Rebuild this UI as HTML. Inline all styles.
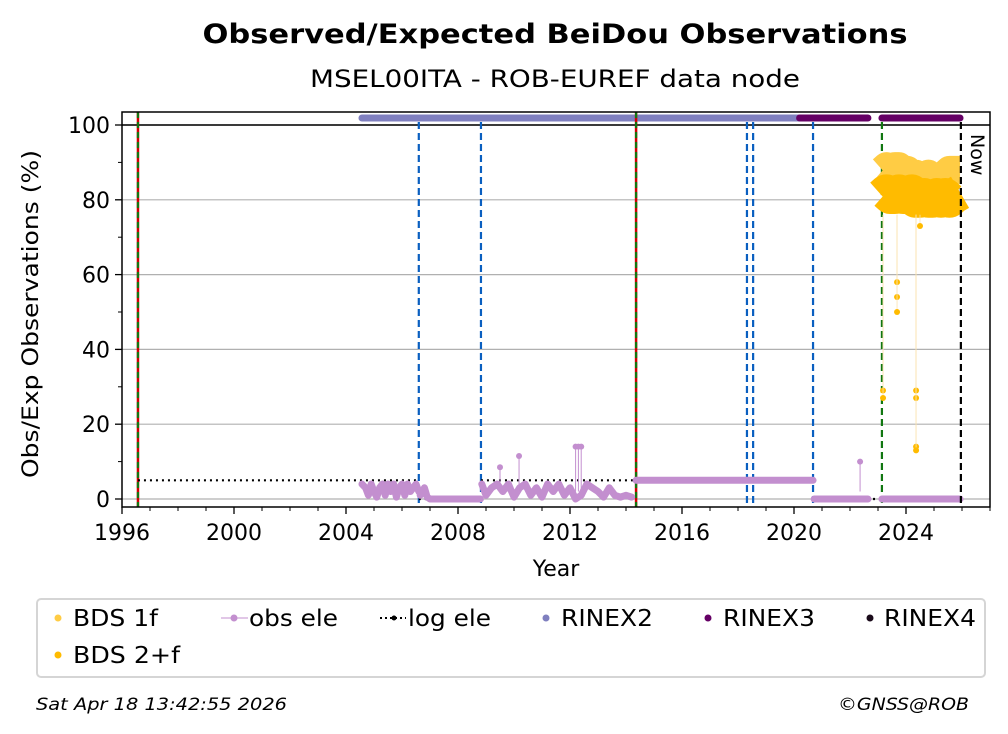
<!DOCTYPE html>
<html><head><meta charset="utf-8"><style>
body{margin:0;background:#fff;}
svg{display:block;font-family:"DejaVu Sans","Liberation Sans",sans-serif;}
</style></head><body>
<svg id="chart" width="1008" height="734" viewBox="0 0 1008 734" xmlns="http://www.w3.org/2000/svg">
<text x="555" y="43" text-anchor="middle" font-size="27" font-weight="bold" textLength="705" lengthAdjust="spacingAndGlyphs">Observed/Expected BeiDou Observations</text>
<text x="555" y="87" text-anchor="middle" font-size="24" textLength="490" lengthAdjust="spacingAndGlyphs">MSEL00ITA - ROB-EUREF data node</text>
<g id="grid"></g><g id="marks"></g><g id="axes"></g>
<text x="556" y="576" text-anchor="middle" font-size="22">Year</text>
<text transform="translate(38,314) rotate(-90)" text-anchor="middle" font-size="22" textLength="328" lengthAdjust="spacingAndGlyphs">Obs/Exp Observations (%)</text>
<g>
<rect x="37" y="599" width="948" height="78" rx="4" fill="#fff" stroke="#d5d5d5" stroke-width="2"/>
<g><circle cx="58" cy="618" r="3.5" fill="#ffcc44"/><text x="73" y="626" font-size="23" textLength="85" lengthAdjust="spacingAndGlyphs">BDS 1f</text></g>
<g><circle cx="58" cy="655" r="3.5" fill="#ffbb00"/><text x="73" y="663" font-size="23" textLength="107" lengthAdjust="spacingAndGlyphs">BDS 2+f</text></g>
<g><line x1="221" y1="618" x2="248" y2="618" stroke="#c38fcf"/><circle cx="234" cy="618" r="3.5" fill="#c38fcf"/><text x="249" y="626" font-size="23" textLength="89" lengthAdjust="spacingAndGlyphs">obs ele</text></g>
<g><line x1="380" y1="618" x2="406" y2="618" stroke="#000" stroke-dasharray="2,3" stroke-width="2"/><circle cx="394" cy="618" r="2.5" fill="#000"/><text x="408" y="626" font-size="23" textLength="83" lengthAdjust="spacingAndGlyphs">log ele</text></g>
<g><circle cx="546" cy="618" r="3.5" fill="#7f7fbf"/><text x="561" y="626" font-size="23" textLength="92" lengthAdjust="spacingAndGlyphs">RINEX2</text></g>
<g><circle cx="708" cy="618" r="3.5" fill="#650065"/><text x="723" y="626" font-size="23" textLength="92" lengthAdjust="spacingAndGlyphs">RINEX3</text></g>
<g><circle cx="870" cy="618" r="3.5" fill="#1a0a1a"/><text x="884" y="626" font-size="23" textLength="92" lengthAdjust="spacingAndGlyphs">RINEX4</text></g>
</g>
<text x="36" y="710" font-size="17" font-style="italic" textLength="251" lengthAdjust="spacingAndGlyphs">Sat Apr 18 13:42:55 2026</text>
<text x="969" y="710" font-size="17" font-style="italic" text-anchor="end" textLength="131" lengthAdjust="spacingAndGlyphs">©GNSS@ROB</text>
</svg>
<script>
const xTicks=[1996,2000,2004,2008,2012,2016,2020,2024];
const yTicks=[0,20,40,60,80,100];
// obs ele segments
const obsYears1=[2004.57,2004.7,2004.8,2004.9,2005.0,2005.1,2005.2,2005.3,2005.4,2005.5,2005.6,2005.7,2005.8,2005.9,2006.0,2006.1,2006.2,2006.3,2006.4,2006.5,2006.6];
const obsVals1=[4,3,1,4,2,0.5,3,4,1,4,2,4,0.5,3,4,1,4,2,3,4,2];
const obsYears2=[2006.65,2006.8,2006.9,2007.0,2007.3,2007.6,2008.0,2008.4,2008.8];
const obsVals2=[1,3,0.5,0,0,0,0,0,0];
const obsYears3=[2008.85,2009.0,2009.2,2009.4,2009.6,2009.8,2010.0,2010.2,2010.4,2010.6,2010.8,2011.0,2011.2,2011.4,2011.6,2011.8,2012.0,2012.2,2012.4,2012.6,2012.8,2013.0,2013.2,2013.4,2013.6,2013.8,2014.0,2014.2];
const obsVals3=[4,1,3,4,2,4,0.5,3,4,1,3,0.5,4,2,4,1,3,0,1,4,3,2,0.5,3,1,0.5,1,0.5];
const spikeYears=[2009.5,2010.18,2012.2,2012.3,2012.4];
const spikeVals=[8.5,11.5,14,14,14];
const obsYears4=[2014.36,2016.0,2018.0,2020.0,2020.68];
const obsVals4=[5,5,5,5,5];
const obsYears5=[2020.72,2021.4,2022.0,2022.64];
const obsVals5=[0,0,0,0];
const obsSpikeYear=[2022.36];const obsSpikeVal=[10];
const obsYears6=[2023.14,2024.0,2025.0,2025.93];
const obsVals6=[0,0,0,0];
// log ele steps
const logYears=[[1996.57,2006.6],[2006.6,2008.82],[2008.82,2014.36],[2014.36,2020.68],[2020.68,2023.14],[2023.14,2025.96]];
const logVals=[5,0,5,5,0,0];
// BDS
const bdsYears=[2023.15,2023.3,2023.45,2023.6,2023.75,2023.9,2024.05,2024.2,2024.35,2024.5,2024.65,2024.8,2024.95,2025.1,2025.25,2025.4,2025.55,2025.7,2025.93];
const bds1f=[88,89,88,89,89,88,88,86,87,86,86,87,86,86,86,87,88,88,88];
const bds2f=[81,82,81,81,82,81,81,82,80,80,81,80,80,81,80,81,80,81,82];
const bdsOutYears=[2023.18,2023.18,2023.68,2023.68,2023.68,2024.36,2024.36,2024.36,2024.36,2024.5];
const bdsOutVals=[29,27,58,54,50,29,27,14,13,73];
// vertical markers
const blueLines=[2006.6,2008.82,2018.32,2018.54,2020.68];
const redLines=[1996.57,2014.36];
const greenLine=[2023.14];
const nowLine=[2025.96];
// RINEX bars
const rinex2=[[2004.57,2020.2]];
const rinex3=[[2020.2,2022.64],[2023.14,2025.93]];

const L=122,R=990,T=112,B=507;
const X=y=>122+(y-1996)*28.0;
const Y=v=>499-v*3.74;
const NS="http://www.w3.org/2000/svg";
function mk(p,tag,a){const e=document.createElementNS(NS,tag);for(const k in a)e.setAttribute(k,a[k]);p.appendChild(e);return e;}
const grid=document.getElementById('grid'),marks=document.getElementById('marks'),axes=document.getElementById('axes');
yTicks.forEach(v=>{const l=mk(grid,'line',{x1:L,x2:R,y1:Y(v),y2:Y(v),stroke:'#b0b0b0','stroke-width':1.2});

});
mk(grid,'line',{x1:L,x2:R,y1:Y(100),y2:Y(100),stroke:'#000','stroke-width':1.5});
rinex2.forEach(s=>{const l=mk(marks,'line',{x1:X(s[0]),x2:X(s[1]),y1:118,y2:118,stroke:'#7f7fbf','stroke-width':7,'stroke-linecap':'round'});

});
rinex3.forEach(s=>{const l=mk(marks,'line',{x1:X(s[0]),x2:X(s[1]),y1:118,y2:118,stroke:'#650065','stroke-width':7,'stroke-linecap':'round'});

});
blueLines.forEach(y=>{const l=mk(marks,'line',{x1:X(y),x2:X(y),y1:T+10,y2:B,stroke:'#0a5fc0','stroke-width':2.2,'stroke-dasharray':'7,4'});

});
redLines.forEach(y=>{const l=mk(marks,'line',{x1:X(y),x2:X(y),y1:T,y2:B,stroke:'#d00000','stroke-width':2.5});


mk(marks,'line',{x1:X(y),x2:X(y),y1:T,y2:B,stroke:'#117711','stroke-width':2.2,'stroke-dasharray':'6,4'});});
greenLine.forEach(y=>{const l=mk(marks,'line',{x1:X(y),x2:X(y),y1:T+10,y2:B,stroke:'#117711','stroke-width':2.2,'stroke-dasharray':'7,4'});

});
logYears.forEach((s,i)=>{const l=mk(marks,'line',{x1:X(s[0]),x2:X(s[1]),y1:Y(logVals[i]),y2:Y(logVals[i]),stroke:'#000','stroke-width':2.2,'stroke-dasharray':'2,4'});

});
function obsLine(xs,vs){const pts=xs.map((x,i)=>X(x)+','+Y(vs[i])).join(' ');
const p=mk(marks,'polyline',{points:pts,fill:'none',stroke:'#c38fcf','stroke-width':7,'stroke-linejoin':'round','stroke-linecap':'round'});

}
[[obsYears1,obsVals1],[obsYears2,obsVals2],[obsYears3,obsVals3],[obsYears4,obsVals4],[obsYears5,obsVals5],[obsYears6,obsVals6]].forEach(p=>obsLine(p[0],p[1]));
spikeYears.concat(obsSpikeYear).forEach((x,i)=>{const v=i<spikeVals.length?spikeVals[i]:obsSpikeVal[0];
mk(marks,'line',{x1:X(x),x2:X(x),y1:Y(v),y2:Y(2),stroke:'#c38fcf','stroke-width':1});
const c=mk(marks,'circle',{cx:X(x),cy:Y(v),r:3,fill:'#c38fcf'});

});
function band(vals,color,w,name){const pts=bdsYears.map((x,i)=>X(x)+','+Y(vals[i])).join(' ');
const p=mk(marks,'polyline',{points:pts,fill:'none',stroke:color,'stroke-width':w,'stroke-linejoin':'round','stroke-linecap':'butt'});

}
band(bds1f,'#ffcc44',28,'bds-1f-series');
band(bds2f,'#ffbb00',36,'bds-2f-series');
bdsOutYears.forEach((x,i)=>{mk(marks,'line',{x1:X(x),x2:X(x),y1:Y(bdsOutVals[i]),y2:Y(76),stroke:'#fbe3b0','stroke-width':0.8});
const c=mk(marks,'circle',{cx:X(x),cy:Y(bdsOutVals[i]),r:3,fill:'#ffbb00'});

});
nowLine.forEach(y=>{const l=mk(marks,'line',{x1:X(y),x2:X(y),y1:T+10,y2:B,stroke:'#000','stroke-width':2.2,'stroke-dasharray':'7,4'});


const t=mk(marks,'text',{transform:`translate(${X(y)+10},${T+22}) rotate(90)`,'font-size':19});t.textContent='Now';

});
mk(axes,'rect',{x:L,y:T,width:R-L,height:B-T,fill:'none',stroke:'#000','stroke-width':1.5});
yTicks.forEach(v=>{mk(axes,'line',{x1:L-7,x2:L,y1:Y(v),y2:Y(v),stroke:'#000','stroke-width':1.3});
const t=mk(axes,'text',{x:L-12,y:Y(v)+8,'text-anchor':'end','font-size':22});t.textContent=v;

});
for(let v=10;v<=90;v+=20)mk(axes,'line',{x1:L-4,x2:L,y1:Y(v),y2:Y(v),stroke:'#000','stroke-width':1});
for(let y=1996;y<=2027;y++)mk(axes,'line',{x1:X(y),x2:X(y),y1:B,y2:B+4,stroke:'#000','stroke-width':1});
xTicks.forEach(y=>{mk(axes,'line',{x1:X(y),x2:X(y),y1:B,y2:B+7,stroke:'#000','stroke-width':1.3});
const t=mk(axes,'text',{x:X(y),y:B+33,'text-anchor':'middle','font-size':22});t.textContent=y;

});
</script>
</body></html>
